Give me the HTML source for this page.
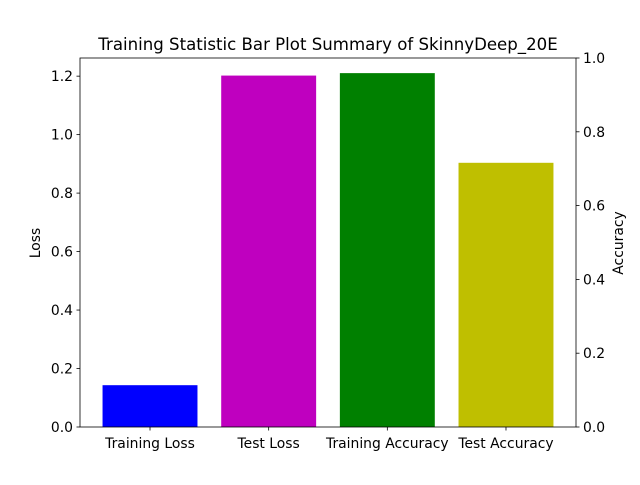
<!DOCTYPE html>
<html><head><meta charset="utf-8"><style>
body{margin:0;background:#fff;}
svg text{font-family:"DejaVu Sans","Liberation Sans",sans-serif;fill:#000;}
</style></head><body>
<svg id="chart" width="640" height="480" xmlns="http://www.w3.org/2000/svg">
<rect width="640" height="480" fill="#fff"/>
<g id="bars"></g>
<g id="axes"></g>
<text x="328" y="50" font-size="16.6" text-anchor="middle">Training Statistic Bar Plot Summary of SkinnyDeep_20E</text>
<text transform="translate(40,243) rotate(-90)" font-size="13.9" text-anchor="middle">Loss</text>
<text transform="translate(623,243) rotate(-90)" font-size="13.9" text-anchor="middle">Accuracy</text>
</svg>
<script>
const categories=["Training Loss","Test Loss","Training Accuracy","Test Accuracy"];
const lossValues=[0.143,1.202];
const accuracyValues=[0.959,0.716];
const barColors=["#0000ff","#bf00bf","#008000","#bfbf00"];
const leftTicks=["0.0","0.2","0.4","0.6","0.8","1.0","1.2"];
const rightTicks=["0.0","0.2","0.4","0.6","0.8","1.0"];

const L=80,R=576,T=58,B=427;
const ns="http://www.w3.org/2000/svg";
const leftMax=Math.max(...lossValues)*1.05;
const xMin=-0.59,xMax=categories.length-1+0.59;
const x=i=>L+(i-xMin)/(xMax-xMin)*(R-L);
const yl=v=>B-v/leftMax*(B-T);
const yr=v=>B-v/1.0*(B-T);
function mk(tag,attrs,parent){const e=document.createElementNS(ns,tag);for(const k in attrs)e.setAttribute(k,attrs[k]);parent.appendChild(e);return e;}
const bars=document.getElementById('bars'),axes=document.getElementById('axes');
const bw=0.8*(R-L)/(xMax-xMin);
const allVals=lossValues.map(v=>({v,s:yl})).concat(accuracyValues.map(v=>({v,s:yr})));
categories.forEach((c,i)=>{
  const d=allVals[i];const top=d.s(d.v);
  const r=mk('rect',{x:x(i)-bw/2,y:top,width:bw,height:B-top,fill:barColors[i]},bars);
  
  
  mk('line',{x1:x(i),x2:x(i),y1:B,y2:B+3.5,stroke:'#000','stroke-width':0.8},axes);
  const t=mk('text',{x:x(i),y:B+21,'font-size':13.9,'text-anchor':'middle'},axes);t.textContent=c;
  
  
});
leftTicks.forEach(s=>{const v=parseFloat(s);const y=yl(v);
  mk('line',{x1:L-3.5,x2:L,y1:y,y2:y,stroke:'#000','stroke-width':0.8},axes);
  const t=mk('text',{x:L-7,y:y+5,'font-size':13.9,'text-anchor':'end'},axes);t.textContent=s;
  
  });
rightTicks.forEach(s=>{const v=parseFloat(s);const y=yr(v);
  mk('line',{x1:R,x2:R+3.5,y1:y,y2:y,stroke:'#000','stroke-width':0.8},axes);
  const t=mk('text',{x:R+7,y:y+5,'font-size':13.9,'text-anchor':'start'},axes);t.textContent=s;
  
  });
const f=mk('rect',{x:L,y:T,width:R-L,height:B-T,fill:'none',stroke:'#000','stroke-width':0.8},axes);


</script>
</body></html>
